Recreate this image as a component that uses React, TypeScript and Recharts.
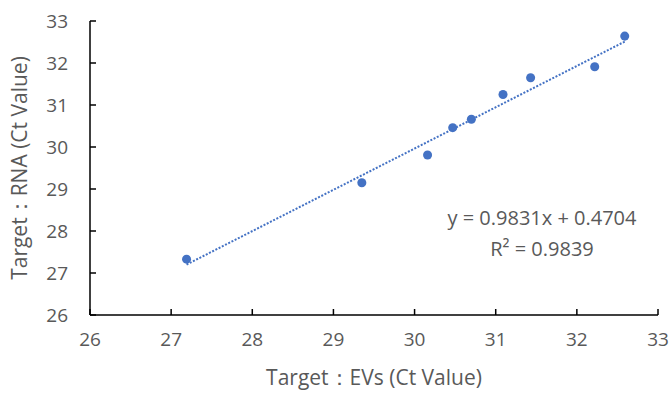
import React from 'react';
import { ScatterChart, Scatter, XAxis, YAxis, ZAxis, Customized } from 'recharts';

// EV Ct values vs RNA Ct values
const evsCt = [27.19, 29.35, 30.16, 30.47, 30.70, 31.09, 31.43, 32.22, 32.59];
const rnaCt = [27.33, 29.15, 29.81, 30.46, 30.66, 31.25, 31.65, 31.91, 32.64];

const axisTicks = [26, 27, 28, 29, 30, 31, 32, 33];

const slope = 0.9831;
const intercept = 0.4704;
const equationText = 'y = 0.9831x + 0.4704';
const r2Text = 'R² = 0.9839';

const points = evsCt.map((x, i) => ({ x, y: rnaCt[i] }));
// trendline spans from the first to the last sample
const trendX = [Math.min(...evsCt), Math.max(...evsCt)];
const trend = trendX.map((x) => ({ x, y: slope * x + intercept }));

const blue = '#4472C4';
const textColor = '#595959';
const font = '"Open Sans", sans-serif';

const Equation = () => (
  <g fontFamily={font} fill={textColor} fontSize={20}>
    <text x={542} y={225} textAnchor="middle">{equationText}</text>
    <text x={542} y={256} textAnchor="middle">{r2Text}</text>
  </g>
);

const App = () => {
  return (
    <div style={{ position: 'absolute', left: 0, top: 0, background: '#fff' }}>
      <ScatterChart
        width={669}
        height={394}
        margin={{ top: 21, right: 11, bottom: 19, left: 30 }}
      >
        <XAxis
          type="number"
          dataKey="x"
          domain={[26, 33]}
          ticks={axisTicks}
          allowDataOverflow
          axisLine={{ stroke: '#000', strokeWidth: 1.5 }}
          tickLine={{ stroke: '#000', strokeWidth: 1.5 }}
          tickSize={-6}
          tickMargin={24}
          height={60}
          tick={{ fill: textColor, fontSize: 19, fontFamily: font }}
          label={{
            value: 'Target：EVs (Ct Value)',
            position: 'insideBottom',
            offset: -10,
            fill: textColor,
            fontSize: 21,
            fontFamily: font,
          }}
        />
        <YAxis
          type="number"
          dataKey="y"
          domain={[26, 33]}
          ticks={axisTicks}
          allowDataOverflow
          axisLine={{ stroke: '#000', strokeWidth: 1.5 }}
          tickLine={{ stroke: '#000', strokeWidth: 1.5 }}
          tickSize={-6}
          tickMargin={28}
          width={60}
          tick={{ fill: textColor, fontSize: 19, fontFamily: font }}
          label={{
            value: 'Target：RNA (Ct Value)',
            angle: -90,
            position: 'insideLeft',
            offset: -10,
            style: { textAnchor: 'middle' },
            fill: textColor,
            fontSize: 21,
            fontFamily: font,
          }}
        />
        <ZAxis range={[64, 64]} />
        <Scatter
          data={trend}
          line={{ stroke: blue, strokeWidth: 2, strokeDasharray: '2 1.6' }}
          shape={() => null}
          isAnimationActive={false}
        />
        <Scatter data={points} fill={blue} isAnimationActive={false} />
        <Customized component={Equation} />
      </ScatterChart>
    </div>
  );
};

export default App;
